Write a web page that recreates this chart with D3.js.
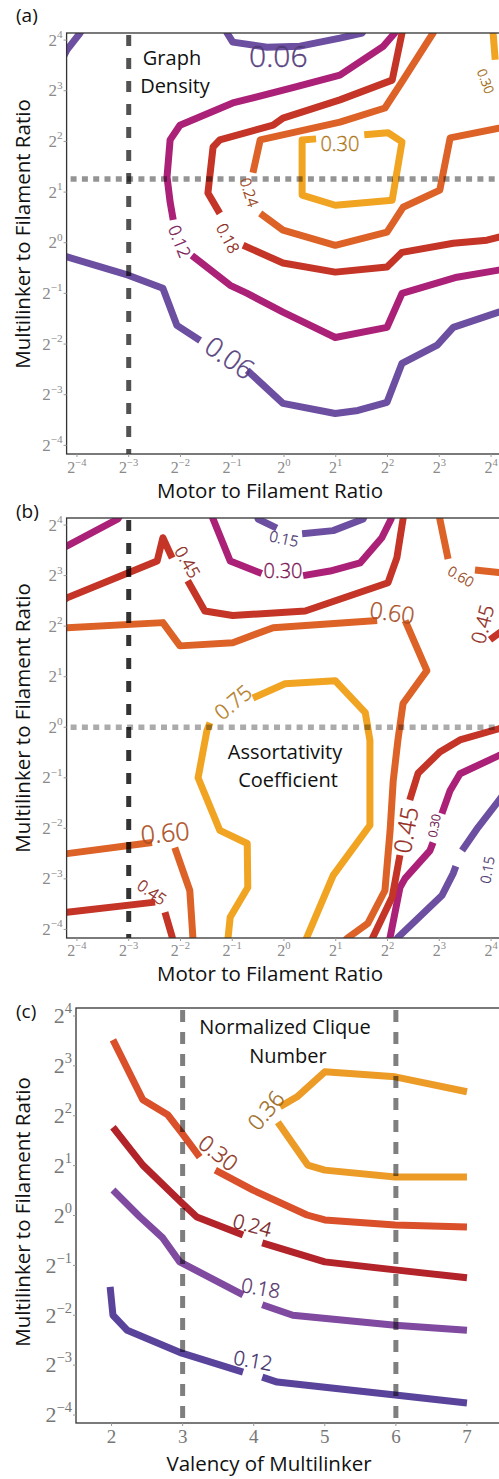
<!DOCTYPE html>
<html>
<head>
<meta charset="utf-8">
<script src="https://cdn.jsdelivr.net/npm/d3@7"></script>
<style>
  body { margin: 0; background: #fff; }
  svg { display: block; }
</style>
</head>
<body>
<script>
// ---------- axis ticks ----------
const log2Ticks = [-4, -3, -2, -1, 0, 1, 2, 3, 4];
const valencyTicks = [2, 3, 4, 5, 6, 7];

// ---------- (a) graph density: contour segments in [log2 motor, log2 multilinker] ----------
const densityLevels = [0.06, 0.12, 0.18, 0.24, 0.30];
const densitySegments = [
  [ // 0.06
    [[-4.3, 3.6], [-4.19, 3.81], [-3.94, 4.14], [-3.85, 4.3]],
    [[-1.15, 4.3], [-1.10, 4.14], [-0.99, 3.96], [-0.33, 3.86], [0.31, 3.88], [1.08, 4.04], [1.51, 4.14], [1.6, 4.3]],
    [[-4.3, -0.25], [-4.19, -0.28], [-3.01, -0.64], [-2.34, -0.90], [-2.07, -1.63], [-1.62, -1.93]],
    [[-0.71, -2.52], [-0.02, -3.17], [0.99, -3.37], [1.43, -3.31], [1.99, -3.15], [2.28, -2.38], [2.96, -2.02], [3.27, -1.67], [4.15, -1.37], [4.3, -1.32]]
  ],
  [ // 0.12
    [[2.2, 4.3], [2.14, 4.14], [1.91, 3.87], [1.08, 3.31], [0.17, 3.06], [-0.99, 2.76], [-2.01, 2.32], [-2.20, 2.03], [-2.26, 1.30], [-2.20, 0.80], [-2.14, 0.45]],
    [[-1.78, -0.25], [-1.04, -0.84], [-0.71, -1.00], [-0.02, -1.37], [0.99, -1.87], [1.99, -1.67], [2.28, -1.00], [3.34, -0.68], [4.15, -0.54], [4.3, -0.52]]
  ],
  [ // 0.18
    [[2.3, 4.3], [2.28, 4.14], [2.09, 3.21], [1.08, 2.82], [-0.02, 2.46], [-0.21, 2.32], [-1.24, 2.03], [-1.37, 1.89], [-1.47, 0.98], [-1.24, 0.58]],
    [[-0.79, -0.05], [-0.02, -0.40], [0.99, -0.58], [1.99, -0.48], [2.28, -0.19], [3.27, -0.01], [3.92, 0.05], [4.15, 0.11], [4.3, 0.14]]
  ],
  [ // 0.24
    [[2.95, 4.3], [2.88, 4.14], [2.30, 3.21], [1.95, 2.66], [1.08, 2.38], [-0.46, 2.03], [-0.60, 1.38]],
    [[-0.46, 0.58], [-0.02, 0.25], [0.99, -0.05], [1.99, 0.21], [2.30, 0.70], [3.01, 1.04], [3.21, 2.07], [4.15, 2.26], [4.3, 2.29]]
  ],
  [ // 0.30
    [[1.55, 2.13], [2.01, 2.17], [2.28, 1.99], [2.09, 0.84], [0.99, 0.74], [0.35, 0.94], [0.35, 2.03], [0.62, 2.05]],
    [[4.04, 4.3], [4.04, 4.14], [4.08, 3.61]]
  ]
];
// label placement: [level index, x, y, rotation, font size]
const densityLabelPlacement = [
  [0, -0.11, 3.69, 0, 30],
  [0, -1.04, -2.26, 35, 27],
  [1, -2.01, 0.03, 68, 17],
  [2, -1.08, 0.09, 62, 16],
  [3, -0.66, 1.00, 72, 15],
  [4, 1.08, 1.95, 0, 20],
  [4, 3.90, 3.19, 70, 13]
];
const densityMarkers = { motor: [-3], multilinker: [1.26] };

// ---------- (b) assortativity coefficient ----------
const assortLevels = [0.15, 0.30, 0.45, 0.60, 0.75];
const assortSegments = [
  [ // 0.15
    [[-0.55, 4.3], [-0.50, 4.12], [-0.14, 3.94]],
    [[0.35, 3.83], [0.95, 3.89], [1.53, 4.12], [1.6, 4.3]],
    [[2.10, -4.3], [2.20, -4.16], [3.05, -3.33], [3.27, -2.89], [3.32, -2.75]],
    [[3.44, -2.44], [3.75, -1.98], [4.15, -1.45], [4.3, -1.25]]
  ],
  [ // 0.30
    [[-4.3, 3.52], [-4.19, 3.59], [-3.21, 4.12], [-3.1, 4.3]],
    [[-1.42, 4.3], [-1.37, 4.12], [-1.04, 3.29], [-0.43, 3.04]],
    [[0.37, 3.00], [0.89, 3.09], [1.47, 3.25], [1.89, 3.75], [2.07, 4.12], [2.1, 4.3]],
    [[2.0, -4.3], [2.05, -4.16], [2.24, -3.17], [2.34, -2.99], [2.82, -2.44], [2.88, -2.28]],
    [[3.05, -1.71], [3.21, -1.25], [3.40, -0.92], [4.15, -0.56], [4.3, -0.5]]
  ],
  [ // 0.45
    [[-4.3, 2.5], [-4.19, 2.56], [-2.45, 3.29], [-2.34, 3.75], [-2.16, 3.35]],
    [[-1.86, 2.90], [-1.53, 2.30], [-0.99, 2.21], [0.41, 2.30], [2.01, 2.86], [2.18, 3.35], [2.30, 4.12], [2.32, 4.3]],
    [[3.98, 1.73], [4.15, 1.86], [4.3, 1.95]],
    [[4.3, 0.02], [4.15, -0.03], [3.40, -0.25], [3.01, -0.49], [2.59, -0.91], [2.43, -1.44]],
    [[2.24, -2.53], [2.09, -3.36], [1.72, -4.15], [1.65, -4.3]],
    [[-4.3, -3.68], [-4.19, -3.66], [-2.49, -3.46]],
    [[-2.30, -3.66], [-2.16, -4.15], [-2.14, -4.3]]
  ],
  [ // 0.60
    [[-4.3, 1.96], [-4.19, 1.97], [-2.34, 2.07], [-2.01, 1.61], [-0.99, 1.67], [-0.21, 1.97], [1.80, 2.11]],
    [[2.34, 2.11], [2.76, 1.12], [2.30, 0.47], [2.20, -0.26], [2.11, -1.06], [2.05, -2.04], [1.95, -3.23], [1.62, -3.88], [1.24, -4.16], [1.1, -4.3]],
    [[3.0, 4.3], [3.01, 4.12], [3.17, 3.33]],
    [[3.69, 3.11], [4.15, 3.06], [4.3, 3.05]],
    [[-4.3, -2.52], [-4.19, -2.50], [-2.55, -2.28]],
    [[-2.11, -2.38], [-1.82, -3.23], [-1.76, -4.16], [-1.76, -4.3]]
  ],
  [ // 0.75
    [[-1.08, -4.3], [-1.08, -4.16], [-1.04, -3.76], [-0.70, -3.17], [-0.71, -2.30], [-1.24, -2.04], [-1.66, -1.00], [-1.49, -0.07], [-1.43, 0.09]],
    [[-0.60, 0.58], [0.02, 0.86], [0.99, 0.92], [1.57, 0.29], [1.66, -0.26], [1.66, -1.94], [0.95, -2.93], [0.44, -4.16], [0.38, -4.3]]
  ]
];
const assortLabelPlacement = [
  [0, 0.00, 3.74, 12, 15],
  [1, -0.02, 3.11, 0, 20],
  [2, -1.86, 3.27, 60, 17],
  [3, 2.09, 2.28, 8, 23],
  [3, 3.42, 2.99, 30, 14],
  [2, 3.83, 2.04, -75, 20],
  [4, -0.99, 0.50, -40, 21],
  [2, 2.34, -2.03, -80, 24],
  [1, 2.90, -1.95, -80, 12],
  [0, 3.92, -2.82, -80, 14],
  [3, -2.30, -2.07, -5, 25],
  [2, -2.55, -3.26, 35, 16]
];
const assortMarkers = { motor: [-3], multilinker: [0] };

// ---------- (c) normalized clique number: [valency, log2 multilinker] ----------
const cliqueLevels = [0.12, 0.18, 0.24, 0.30, 0.36];
const cliqueSegments = [
  [ // 0.12
    [[1.98, -1.43], [2.02, -2.00], [2.22, -2.30], [2.99, -2.76], [3.85, -3.14]],
    [[4.12, -3.24], [4.33, -3.34], [5.99, -3.60], [7.00, -3.76]]
  ],
  [ // 0.18
    [[2.02, 0.51], [2.40, -0.03], [2.72, -0.45], [2.96, -0.93], [3.85, -1.59]],
    [[4.12, -1.79], [4.55, -2.00], [5.99, -2.20], [7.00, -2.30]]
  ],
  [ // 0.24
    [[2.02, 1.77], [2.44, 1.01], [2.99, 0.25], [3.20, -0.03], [3.85, -0.39]],
    [[4.12, -0.55], [5.00, -0.93], [5.99, -1.09], [7.00, -1.25]]
  ],
  [ // 0.30
    [[2.02, 3.52], [2.44, 2.32], [2.79, 2.02], [2.99, 1.65], [3.24, 1.17]],
    [[3.46, 0.91], [3.99, 0.51], [4.75, 0.01], [5.00, -0.09], [5.99, -0.19], [7.00, -0.23]]
  ],
  [ // 0.36
    [[4.37, 2.18], [4.61, 2.38], [5.00, 2.88], [5.99, 2.78], [7.00, 2.48]],
    [[4.34, 1.87], [4.76, 1.01], [5.00, 0.91], [5.99, 0.77], [7.00, 0.77]]
  ]
];
const cliqueLabelPlacement = [
  [3, 3.51, 1.27, 38, 22],
  [4, 4.16, 2.12, -50, 22],
  [2, 3.98, -0.19, 15, 20],
  [1, 4.10, -1.45, 10, 20],
  [0, 3.99, -2.90, 10, 20]
];
const cliqueMarkers = { valency: [3, 6], multilinker: [] };

// ---------- styling ----------
const warmColors = ["#6c4fa0", "#ab2178", "#c43427", "#dd6227", "#f0a422"];
const cliqueColors = ["#5a449b", "#7f4a9f", "#b22429", "#d9502a", "#ec9b27"];
const SANS = "'Open Sans', 'Noto Sans', sans-serif";
const SERIF = "'Liberation Serif', 'DejaVu Serif', serif";

const svg = d3.select("body").append("svg").attr("width", 499).attr("height", 1479);

function powText(sel, e, size) {
  sel.append("tspan").text("2");
  sel.append("tspan").attr("dy", -0.45 * size).attr("font-size", size * 0.66)
    .text(e < 0 ? "\u2212" + (-e) : String(e));
}

function drawPanel(o) {
  const g = svg.append("g");
  const x = d3.scaleLinear().domain(o.xDomain).range([o.left, o.right]);
  const y = d3.scaleLinear().domain(o.yDomain).range([o.bottom, o.top]);
  const clipId = "clip-" + o.id;
  g.append("clipPath").attr("id", clipId).append("rect")
    .attr("x", o.left).attr("y", o.top).attr("width", o.right - o.left).attr("height", o.bottom - o.top);

  const plot = g.append("g").attr("clip-path", `url(#${clipId})`);
  const line = d3.line().x(d => x(d[0])).y(d => y(d[1]));

  // contour lines
  o.segments.forEach((segs, i) => {
    segs.forEach(s => {
      plot.append("path").attr("d", line(s)).attr("fill", "none")
        .attr("stroke", o.colors[i]).attr("stroke-width", 7)
        .attr("stroke-linejoin", "round").attr("stroke-linecap", "butt");
    });
  });

  // reference lines
  (o.vMarks || []).forEach(m => {
    plot.append("line").attr("x1", x(m.v)).attr("x2", x(m.v)).attr("y1", o.top + 2).attr("y2", o.bottom)
      .attr("stroke", m.color).attr("stroke-width", m.width).attr("stroke-dasharray", m.dash);
  });
  (o.hMarks || []).forEach(m => {
    plot.append("line").attr("x1", o.left + 4).attr("x2", o.right).attr("y1", y(m.v)).attr("y2", y(m.v))
      .attr("stroke", m.color).attr("stroke-width", m.width).attr("stroke-dasharray", m.dash);
  });

  // contour labels
  o.labels.forEach(([li, lx, ly, rot, size]) => {
    const c = d3.color(o.colors[li]);
    plot.append("text")
      .attr("transform", `translate(${x(lx)},${y(ly)}) rotate(${rot})`)
      .attr("text-anchor", "middle").attr("dominant-baseline", "central")
      .attr("font-family", SANS).attr("font-size", size).attr("font-weight", 300)
      .attr("fill", o.labelFill(c)).attr("stroke", c.darker(1.5)).attr("stroke-width", 0.35)
      .text(o.levels[li].toFixed(2));
  });

  // frame
  g.append("rect").attr("x", o.left).attr("y", o.top)
    .attr("width", o.right - o.left).attr("height", o.bottom - o.top)
    .attr("fill", "none").attr("stroke", "#333").attr("stroke-width", 1.3);

  // ticks
  o.xTicks.forEach(t => {
    g.append("line").attr("x1", x(t)).attr("x2", x(t)).attr("y1", o.bottom).attr("y2", o.bottom + 3)
      .attr("stroke", "#999").attr("stroke-width", 1);
    const tx = g.append("text").attr("x", x(t)).attr("y", o.bottom + o.xTickDy)
      .attr("text-anchor", "middle").attr("font-family", SERIF)
      .attr("font-size", o.xTickSize).attr("fill", o.tickColor);
    if (o.xPow) powText(tx, t, o.xTickSize); else tx.text(t);
  });
  o.yTicks.forEach(t => {
    g.append("line").attr("x1", o.left - 3).attr("x2", o.left).attr("y1", y(t)).attr("y2", y(t))
      .attr("stroke", "#999").attr("stroke-width", 1);
    const ty = g.append("text").attr("x", o.left - 4).attr("y", y(t) + o.yTickSize * 0.33)
      .attr("text-anchor", "end").attr("font-family", SERIF)
      .attr("font-size", o.yTickSize).attr("fill", o.tickColor);
    powText(ty, t, o.yTickSize);
  });

  // axis titles
  g.append("text").attr("x", o.xLabelX).attr("y", o.xLabelY).attr("text-anchor", "middle")
    .attr("font-family", SANS).attr("font-size", 20.5).attr("fill", "#111").text(o.xLabel);
  g.append("text").attr("transform", `translate(22,${o.yLabelY}) rotate(-90)`)
    .attr("text-anchor", "middle").attr("dominant-baseline", "central")
    .attr("font-family", SANS).attr("font-size", 20.5).attr("fill", "#111")
    .text("Multilinker to Filament Ratio");

  // panel tag
  g.append("text").attr("x", 16).attr("y", o.tagY).attr("font-family", SANS)
    .attr("font-size", 19).attr("fill", "#111").text(o.tag);

  // inset title
  o.title.forEach(([txt, tx, ty]) => {
    g.append("text").attr("x", tx).attr("y", ty).attr("text-anchor", "middle")
      .attr("dominant-baseline", "central").attr("font-family", SANS)
      .attr("font-size", 20).attr("fill", "#111").text(txt);
  });
}

const dotted = c => ({ color: c, width: 5.5, dash: "6,5.3" });

drawPanel({
  id: "a", tag: "(a)", tagY: 22,
  left: 66.6, right: 501.4, top: 33, bottom: 454,
  xDomain: [-4.2, 4.2], yDomain: [-4.17, 4.14],
  xTicks: log2Ticks, yTicks: log2Ticks, xPow: true,
  xTickSize: 16, yTickSize: 17, xTickDy: 19, tickColor: "#8a8a8a",
  levels: densityLevels, segments: densitySegments, colors: warmColors,
  labels: densityLabelPlacement, labelFill: c => c.darker(0.3),
  vMarks: densityMarkers.motor.map(v => ({ v, color: "rgba(0,0,0,0.68)", width: 5, dash: "11,12" })),
  hMarks: densityMarkers.multilinker.map(v => ({ v, ...dotted("rgba(0,0,0,0.42)") })),
  xLabel: "Motor to Filament Ratio", xLabelX: 270, xLabelY: 498, yLabelY: 234,
  title: [["Graph", 172, 57], ["Density", 175, 85]]
});

drawPanel({
  id: "b", tag: "(b)", tagY: 518,
  left: 66.6, right: 501.4, top: 518, bottom: 938,
  xDomain: [-4.2, 4.2], yDomain: [-4.17, 4.14],
  xTicks: log2Ticks, yTicks: log2Ticks, xPow: true,
  xTickSize: 16, yTickSize: 17, xTickDy: 18, tickColor: "#8a8a8a",
  levels: assortLevels, segments: assortSegments, colors: warmColors,
  labels: assortLabelPlacement, labelFill: c => c.darker(0.3),
  vMarks: assortMarkers.motor.map(v => ({ v, color: "rgba(0,0,0,0.8)", width: 5, dash: "11,12" })),
  hMarks: assortMarkers.multilinker.map(v => ({ v, ...dotted("rgba(0,0,0,0.33)") })),
  xLabel: "Motor to Filament Ratio", xLabelX: 270, xLabelY: 981, yLabelY: 718,
  title: [["Assortativity", 285, 751], ["Coefficient", 288, 779]]
});

drawPanel({
  id: "c", tag: "(c)", tagY: 1018,
  left: 76, right: 502.5, top: 1008, bottom: 1423,
  xDomain: [1.5, 7.5], yDomain: [-4.16, 4.16],
  xTicks: valencyTicks, yTicks: log2Ticks, xPow: false,
  xTickSize: 19, yTickSize: 22, xTickDy: 20, tickColor: "#777",
  levels: cliqueLevels, segments: cliqueSegments, colors: cliqueColors,
  labels: cliqueLabelPlacement, labelFill: c => c.darker(0.9),
  vMarks: cliqueMarkers.valency.map(v => ({ v, color: "rgba(0,0,0,0.5)", width: 5, dash: "12,10" })),
  hMarks: [],
  xLabel: "Valency of Multilinker", xLabelX: 269, xLabelY: 1471, yLabelY: 1212,
  title: [["Normalized Clique", 285, 1026], ["Number", 288, 1055]]
});
</script>
</body>
</html>
